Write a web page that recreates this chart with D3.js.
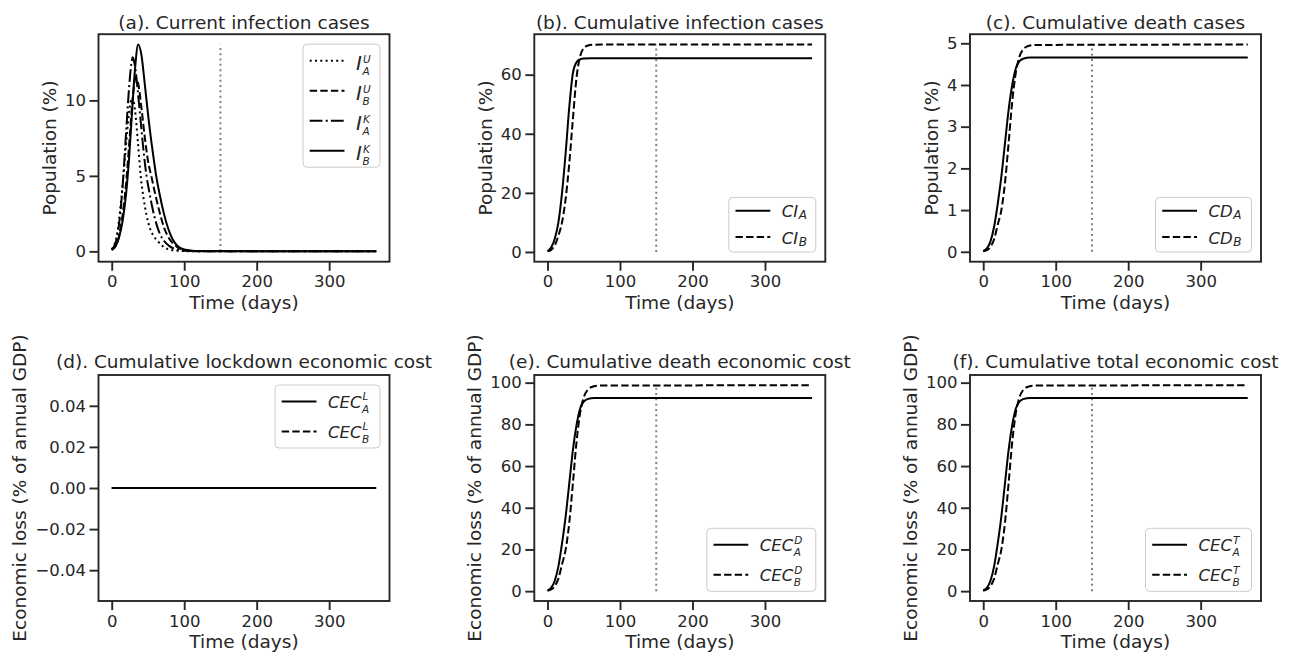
<!DOCTYPE html>
<html>
<head>
<meta charset="utf-8">
<script src="https://cdn.jsdelivr.net/npm/d3@7"></script>
<style>
body{margin:0;background:#fff}
text{font-family:"DejaVu Sans",sans-serif;fill:#262626}
</style>
</head>
<body>
<svg id="chart" width="1293" height="652"></svg>
<script>
// Data

var lockdownEnd = 150,
	dayRange = [0, 365];

var xTicks = [0, 100, 200, 300];
var yTicksA = [0, 5, 10],
	yTicksB = [0, 20, 40, 60],
	yTicksC = [0, 1, 2, 3, 4, 5],
	yTicksD = [-0.04, -0.02, 0, 0.02, 0.04],
	yTicksE = [0, 20, 40, 60, 80, 100];

// (a) current infections, [day, % population]
var I_AU = [[0,0.15],[4,0.5],[8,1.3],[12,2.9],[16,4.9],[20,7.2],[24,9.2],[28,10.2],[32,9.4],[36,7.3],[40,5.0],[44,3.5],[48,2.4],[53,1.5],[58,1.0],[63,0.7],[70,0.35],[80,0.12],[95,0.03],[120,0],[365,0]];
var I_BU = [[0,0.1],[5,0.35],[10,1.0],[15,2.4],[20,4.6],[25,7.7],[29,10.2],[33,11.5],[37,11.0],[41,9.5],[46,7.4],[50,6.0],[55,4.9],[60,3.8],[66,2.6],[72,1.6],[80,0.8],[90,0.3],[100,0.1],[120,0.01],[365,0]];
var I_AK = [[0,0.1],[4,0.4],[8,1.1],[12,2.6],[16,5.0],[20,8.0],[24,10.9],[27,12.4],[29,12.85],[32,12.3],[36,10.6],[40,8.6],[44,6.6],[48,5.0],[52,3.9],[56,2.9],[60,2.1],[66,1.2],[72,0.7],[80,0.33],[90,0.12],[100,0.04],[120,0.005],[365,0]];
var I_BK = [[0,0.1],[5,0.3],[10,0.9],[15,2.0],[20,3.9],[24,6.2],[28,9.2],[32,12.0],[36.5,13.7],[41,13.0],[46,10.9],[51,8.7],[56,6.8],[61,5.1],[66,3.8],[72,2.5],[78,1.5],[84,0.8],[90,0.4],[100,0.12],[115,0.02],[365,0]];

// (b) cumulative infections
var CI_A = [[0,0.3],[5,1.5],[10,4.5],[15,10],[20,20],[25,33.5],[30,49],[35,60.5],[40,64.2],[45,65.2],[50,65.5],[60,65.6],[365,65.6]];
var CI_B = [[0,0.2],[5,0.7],[10,2.2],[15,5.5],[20,10],[25,18],[30,30],[35,45],[40,59],[45,66.2],[50,69],[55,69.8],[62,70.1],[75,70.2],[365,70.2]];

// (c) cumulative deaths
var CD_A = [[0,0.02],[5,0.08],[10,0.25],[15,0.6],[20,1.15],[25,1.8],[30,2.6],[35,3.4],[40,4.0],[45,4.4],[50,4.57],[55,4.63],[65,4.66],[365,4.66]];
var CD_B = [[0,0.01],[5,0.04],[10,0.12],[15,0.3],[20,0.65],[25,1.0],[30,1.65],[35,2.6],[40,3.6],[45,4.3],[50,4.68],[55,4.85],[60,4.92],[70,4.96],[365,4.97]];

// (d) lockdown cost, (e) death cost, (f) total cost (% annual GDP)
var CECL_A = [[0,0],[365,0]];
var CECL_B = [[0,0],[365,0]];
var CECD_A = [[0,0.4],[5,1.6],[10,5.0],[15,11.9],[20,22.9],[25,35.8],[30,51.7],[35,67.7],[40,79.6],[45,87.6],[50,90.9],[55,92.1],[65,92.7],[365,92.7]];
var CECD_B = [[0,0.2],[5,0.8],[10,2.4],[15,6.0],[20,12.9],[25,19.9],[30,32.8],[35,51.7],[40,71.5],[45,85.5],[50,93.0],[55,96.4],[60,97.8],[70,98.6],[365,98.75]];
var CECT_A = [[0,0.4],[5,1.6],[10,5.0],[15,11.9],[20,22.9],[25,35.8],[30,51.7],[35,67.7],[40,79.6],[45,87.6],[50,90.9],[55,92.1],[65,92.7],[365,92.7]];
var CECT_B = [[0,0.2],[5,0.8],[10,2.4],[15,6.0],[20,12.9],[25,19.9],[30,32.8],[35,51.7],[40,71.5],[45,85.5],[50,93.0],[55,96.4],[60,97.8],[70,98.6],[365,98.75]];

// Styles

var LW = 2,
	DOT = "2,3.3",
	DASH = "7.4,3.2",
	DASHDOT = "12.8,3.2,2,3.2",
	INK = "#262626";

var colLeft = [98.5, 534.3, 970],
	rowTop = [34.2, 375],
	rowH = [227.5, 226],
	titleY = [29.3, 368.3],
	boxW = 291;

var fmtInt = d3.format("d"),
	fmt2 = d3.format(".2f");

var panels = [
	{c:0, r:0, title:"(a). Current infection cases", ylab:"Population (%)", yt:yTicksA, fmt:fmtInt,
	 series:[{d:I_AU, dash:DOT, lab:["I","U","A"]}, {d:I_BU, dash:DASH, lab:["I","U","B"]},
	         {d:I_AK, dash:DASHDOT, lab:["I","K","A"]}, {d:I_BK, dash:null, lab:["I","K","B"]}],
	 leg:{pos:"tr", w:77, fs:20, base:9}},
	{c:1, r:0, title:"(b). Cumulative infection cases", ylab:"Population (%)", yt:yTicksB, fmt:fmtInt,
	 series:[{d:CI_A, dash:null, lab:["CI",null,"A"]}, {d:CI_B, dash:DASH, lab:["CI",null,"B"]}],
	 leg:{pos:"br", w:87, fs:16.5, base:6.5}},
	{c:2, r:0, title:"(c). Cumulative death cases", ylab:"Population (%)", yt:yTicksC, fmt:fmtInt,
	 series:[{d:CD_A, dash:null, lab:["CD",null,"A"]}, {d:CD_B, dash:DASH, lab:["CD",null,"B"]}],
	 leg:{pos:"br", w:96, fs:16.5, base:6.5}},
	{c:0, r:1, title:"(d). Cumulative lockdown economic cost", ylab:"Economic loss (% of annual GDP)", yt:yTicksD, fmt:fmt2,
	 series:[{d:CECL_A, dash:null, lab:["CEC","L","A"]}, {d:CECL_B, dash:DASH, lab:["CEC","L","B"]}],
	 leg:{pos:"tr", w:105, fs:16.5, base:6}},
	{c:1, r:1, title:"(e). Cumulative death economic cost", ylab:"Economic loss (% of annual GDP)", yt:yTicksE, fmt:fmtInt,
	 series:[{d:CECD_A, dash:null, lab:["CEC","D","A"]}, {d:CECD_B, dash:DASH, lab:["CEC","D","B"]}],
	 leg:{pos:"br", w:109, fs:16.5, base:6}},
	{c:2, r:1, title:"(f). Cumulative total economic cost", ylab:"Economic loss (% of annual GDP)", yt:yTicksE, fmt:fmtInt,
	 series:[{d:CECT_A, dash:null, lab:["CEC","T","A"]}, {d:CECT_B, dash:DASH, lab:["CEC","T","B"]}],
	 leg:{pos:"br", w:106, fs:16.5, base:6}}
];

var svg = d3.select("#chart");

function padded(ext){
	if (ext[0] == ext[1]) return [ext[0]-0.055, ext[1]+0.055];
	var m = 0.05*(ext[1]-ext[0]);
	return [ext[0]-m, ext[1]+m];
}

// italic math-like label: base, then superscript / subscript stacked after it
function mathLabel(g, x, y, lab, fs){
	var t = g.append("text").attr("x",x).attr("y",y).style("font-style","italic").style("font-size",fs+"px").text(lab[0]);
	var w = t.node().getComputedTextLength();
	if (lab[1]) {
		g.append("text").attr("x",x+w+1).attr("y",y-7.2)
			.style("font-style","italic").style("font-size","10.5px").text(lab[1]);
	}
	g.append("text").attr("x",x+w+0.5).attr("y",y+(lab[1] ? 5.3 : 2))
		.style("font-style","italic").style("font-size",(lab[1] ? 10.5 : 12)+"px").text(lab[2]);
}

panels.forEach(function(p){
	var left = colLeft[p.c], top = rowTop[p.r], h = rowH[p.r];
	var right = left+boxW, bottom = top+h;

	var allY = [];
	p.series.forEach(function(s){ s.d.forEach(function(v){ allY.push(v[1]); }); });
	var yExt = d3.extent(allY);

	var x = d3.scaleLinear().domain(padded(dayRange)).range([left, right]);
	var y = d3.scaleLinear().domain(padded(yExt)).range([bottom, top]);

	var g = svg.append("g");

	// axes
	var xa = g.append("g").attr("transform","translate(0,"+bottom+")")
		.call(d3.axisBottom(x).tickValues(xTicks).tickSize(9).tickPadding(5).tickFormat(fmtInt));
	var ya = g.append("g").attr("transform","translate("+left+",0)")
		.call(d3.axisLeft(y).tickValues(p.yt).tickSize(9).tickPadding(3.5).tickFormat(p.fmt));
	[xa, ya].forEach(function(a){
		a.select(".domain").remove();
		a.selectAll("line").style("stroke",INK).style("stroke-width",1.9);
		a.selectAll("text").style("font-size","16.5px").style("fill",INK).attr("font-family",null);
	});

	// lockdown marker
	g.append("line")
		.attr("x1",x(lockdownEnd)).attr("x2",x(lockdownEnd))
		.attr("y1",y(0)).attr("y2",y(yExt[1]))
		.style("stroke","#808080").style("stroke-width",LW).style("stroke-dasharray",DOT);

	// curves
	var line = d3.line().x(function(d){return x(d[0])}).y(function(d){return y(d[1])}).curve(d3.curveMonotoneX);
	p.series.forEach(function(s){
		g.append("path").datum(s.d).attr("d",line)
			.style("fill","none").style("stroke","black").style("stroke-width",LW)
			.style("stroke-dasharray",s.dash);
	});

	// frame
	g.append("rect").attr("x",left).attr("y",top).attr("width",boxW).attr("height",h)
		.style("fill","none").style("stroke",INK).style("stroke-width",1.9);

	// texts
	g.append("text").attr("x",(left+right)/2).attr("y",titleY[p.r])
		.attr("text-anchor","middle").style("font-size","18.5px").text(p.title);
	g.append("text").attr("x",(left+right)/2).attr("y",bottom+47.3)
		.attr("text-anchor","middle").style("font-size","18.5px").text("Time (days)");

	var maxW = d3.max(ya.selectAll("text").nodes(), function(n){return n.getComputedTextLength()});
	var lx = left-9-3.5-maxW-9, ly = (top+bottom)/2;
	g.append("text").attr("transform","translate("+lx+","+ly+")rotate(-90)")
		.attr("text-anchor","middle").style("font-size","18.5px").text(p.ylab);

	// legend
	var hasSup = p.series[0].lab[1] != null;
	var rh = hasSup ? 30 : 26.3, pt = hasSup ? 16.5 : 13.3, pb = hasSup ? 16.5 : 15;
	var lh = pt + rh*(p.series.length-1) + pb;
	var bx = right-9.5-p.leg.w;
	var by = p.leg.pos == "tr" ? top+10 : bottom-9.7-lh;
	var lg = g.append("g");
	lg.append("rect").attr("x",bx).attr("y",by).attr("width",p.leg.w).attr("height",lh)
		.attr("rx",4).attr("ry",4)
		.style("fill","white").style("fill-opacity",0.8).style("stroke","#cccccc").style("stroke-width",1);
	p.series.forEach(function(s,i){
		var ry = by+pt+i*rh;
		lg.append("line").attr("x1",bx+6.7).attr("x2",bx+41.5).attr("y1",ry).attr("y2",ry)
			.style("stroke","black").style("stroke-width",LW).style("stroke-dasharray",s.dash);
		mathLabel(lg, bx+53, ry+p.leg.base, s.lab, p.leg.fs);
	});
});
</script>
</body>
</html>
